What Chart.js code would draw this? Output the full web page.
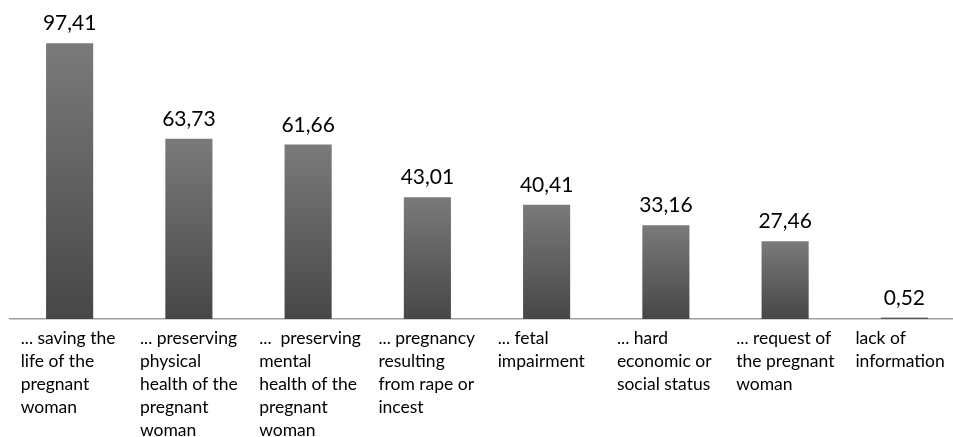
<!DOCTYPE html>
<html>
<head>
<meta charset="utf-8">
<script src="https://cdn.jsdelivr.net/npm/chart.js@4.4.1/dist/chart.umd.min.js"></script>
<style>
  html, body { margin: 0; padding: 0; background: #fff; overflow: hidden; }
  #wrap { width: 965px; height: 437px; }
</style>
</head>
<body>
<div id="wrap"><canvas id="reasonsChart"></canvas></div>
<script>
const categories = [
  ['... saving the', 'life of the', 'pregnant', 'woman'],
  ['... preserving', 'physical', 'health of the', 'pregnant', 'woman'],
  ['...  preserving', 'mental', 'health of the', 'pregnant', 'woman'],
  ['... pregnancy', 'resulting', 'from rape or', 'incest'],
  ['... fetal', 'impairment'],
  ['... hard', 'economic or', 'social status'],
  ['... request of', 'the pregnant', 'woman'],
  ['lack of', 'information']
];
const values = [97.41, 63.73, 61.66, 43.01, 40.41, 33.16, 27.46, 0.52];
const valueLabels = ['97,41', '63,73', '61,66', '43,01', '40,41', '33,16', '27,46', '0,52'];

const fontFamily = 'Lato, "Open Sans", sans-serif';

// value above each bar + multi-line category text under the axis
const labelPlugin = {
  id: 'labelPlugin',
  afterDraw(chart) {
    const ctx = chart.ctx;
    const xs = chart.scales.x;
    const ys = chart.scales.y;
    ctx.save();
    ctx.fillStyle = '#000';
    ctx.textBaseline = 'alphabetic';

    ctx.font = '21px ' + fontFamily;
    ctx.textAlign = 'center';
    values.forEach((v, i) => {
      ctx.fillText(valueLabels[i], xs.getPixelForValue(i), ys.getPixelForValue(v) - 13);
    });

    ctx.font = '17.5px ' + fontFamily;
    ctx.textAlign = 'left';
    const base = ys.getPixelForValue(0);
    categories.forEach((lines, i) => {
      const left = xs.getPixelForValue(i) - 49;
      lines.forEach((line, j) => {
        ctx.fillText(line, left, base + 25 + j * 23);
      });
    });
    ctx.restore();
  }
};

const ctx = document.getElementById('reasonsChart').getContext('2d');
const chart = new Chart(ctx, {
  type: 'bar',
  data: {
    labels: categories.map(c => c.join(' ')),
    datasets: [{
      data: values,
      backgroundColor: (c) => {
        const chartArea = c.chart.chartArea;
        if (!chartArea) return '#606060';
        const y = c.chart.scales.y;
        const v = c.raw || 0;
        const top = y.getPixelForValue(v);
        const bottom = y.getPixelForValue(0);
        const g = c.chart.ctx.createLinearGradient(0, top, 0, bottom);
        g.addColorStop(0, '#7a7a7a');
        g.addColorStop(1, '#474747');
        return g;
      },
      borderWidth: 0,
      categoryPercentage: 1,
      barPercentage: 0.395
    }]
  },
  options: {
    responsive: true,
    maintainAspectRatio: false,
    animation: false,
    layout: { padding: { left: 10, right: 1, top: 36, bottom: 110 } },
    plugins: {
      legend: { display: false },
      tooltip: { enabled: false }
    },
    scales: {
      x: {
        grid: { display: false },
        ticks: { display: false },
        border: { display: true, color: '#a0a0a0', width: 1.5 }
      },
      y: {
        display: false,
        min: 0,
        max: 100
      }
    }
  },
  plugins: [labelPlugin]
});
</script>
</body>
</html>
